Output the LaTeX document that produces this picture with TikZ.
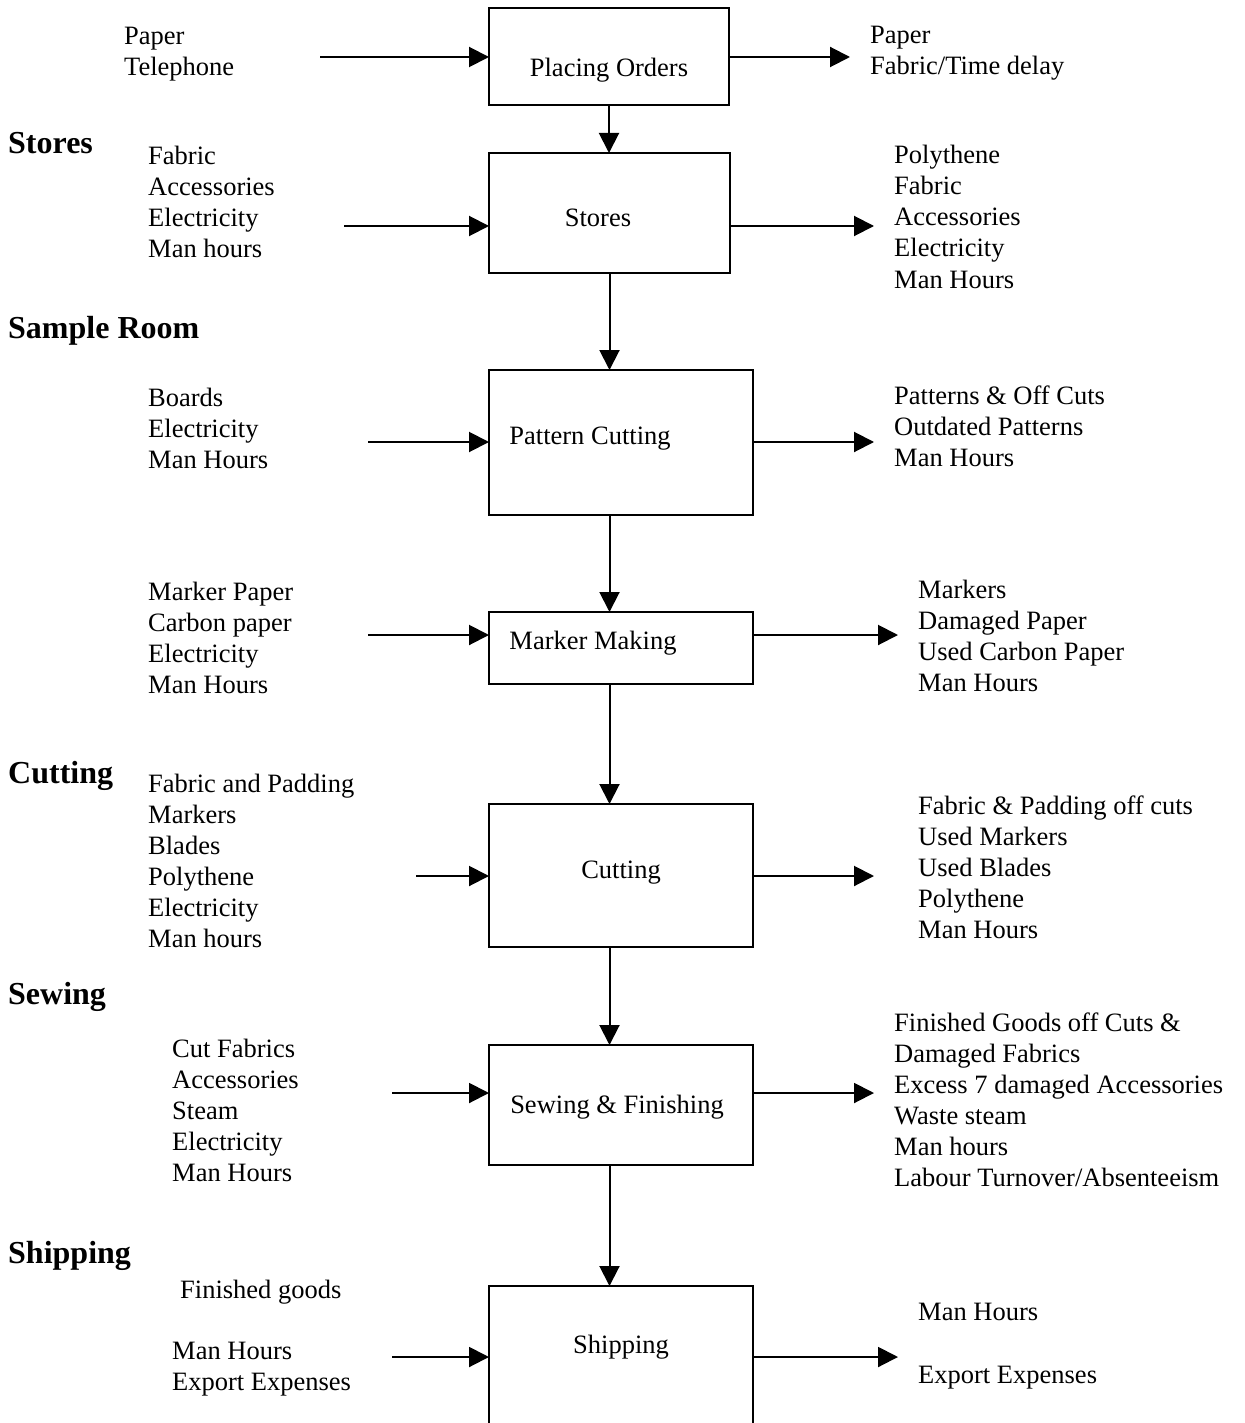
\documentclass[tikz,border=0pt]{standalone}
\usepackage{fontspec}
\setmainfont{Liberation Serif}
\usetikzlibrary{arrows.meta}

% one column of text lines, 31pt apart: name, x, first baseline, items
\newcommand\textcolumn[4]{%
  \foreach \t [count=\i from 0] in {#4}
    \node[txt] (#1-\i) at (#2, {#3+31*\i}) {\t};}

\begin{document}
\begin{tikzpicture}[
    x=1pt, y=-1pt,
    box/.style={draw, line width=2pt, inner sep=0pt, outer sep=0pt},
    arr/.style={line width=2pt, -{Triangle[length=20pt,width=20pt]}},
    txt/.style={anchor=base west, inner sep=0pt, font=\fontsize{26.5}{31}\selectfont},
    boxlabel/.style={anchor=base, inner sep=0pt, font=\fontsize{26.5}{31}\selectfont},
    heading/.style={anchor=base west, inner sep=0pt, font=\fontsize{32}{36}\selectfont\bfseries}
  ]
  \useasboundingbox (0,0) rectangle (1244,1423);
  \clip (0,0) rectangle (1244,1423);

  % process boxes
  \node[box, minimum width=240pt, minimum height=97pt]  (po) at (609,56.5) {};
  \node[box, minimum width=241pt, minimum height=120pt] (st) at (609.5,213) {};
  \node[box, minimum width=264pt, minimum height=145pt] (pc) at (621,442.5) {};
  \node[box, minimum width=264pt, minimum height=72pt]  (mm) at (621,648) {};
  \node[box, minimum width=264pt, minimum height=143pt] (cu) at (621,875.5) {};
  \node[box, minimum width=264pt, minimum height=120pt] (sf) at (621,1105) {};
  \node[box, minimum width=264pt, minimum height=180pt] (sh) at (621,1376) {};

  % box captions
  \node[boxlabel] (po-t) at (609,77)  {Placing Orders};
  \node[boxlabel] (st-t) at (598,227) {Stores};
  \node[boxlabel] (pc-t) at (590,444) {Pattern Cutting};
  \node[boxlabel] (mm-t) at (593,649) {Marker Making};
  \node[boxlabel] (cu-t) at (621,878) {Cutting};
  \node[boxlabel] (sf-t) at (617,1113) {Sewing \& Finishing};
  \node[boxlabel] (sh-t) at (621,1353) {Shipping};

  % main flow
  \draw[arr] (po.south) -- (po.south |- st.north);
  \draw[arr] (st.south) -- (st.south |- pc.north);
  \draw[arr] (st.south |- pc.south) -- (st.south |- mm.north);
  \draw[arr] (st.south |- mm.south) -- (st.south |- cu.north);
  \draw[arr] (st.south |- cu.south) -- (st.south |- sf.north);
  \draw[arr] (st.south |- sf.south) -- (st.south |- sh.north);

  % inputs
  \coordinate (i1) at (320,57);
  \coordinate (i2) at (344,226);
  \coordinate (i3) at (368,442);
  \coordinate (i4) at (368,635);
  \coordinate (i5) at (416,876);
  \coordinate (i6) at (392,1093);
  \coordinate (i7) at (392,1357);
  \draw[arr] (i1) -- (i1 -| po.west);
  \draw[arr] (i2) -- (i2 -| st.west);
  \draw[arr] (i3) -- (i3 -| pc.west);
  \draw[arr] (i4) -- (i4 -| mm.west);
  \draw[arr] (i5) -- (i5 -| cu.west);
  \draw[arr] (i6) -- (i6 -| sf.west);
  \draw[arr] (i7) -- (i7 -| sh.west);

  % outputs
  \coordinate (o1) at (850,57);
  \coordinate (o2) at (874,226);
  \coordinate (o3) at (874,442);
  \coordinate (o4) at (898,635);
  \coordinate (o5) at (874,876);
  \coordinate (o6) at (874,1093);
  \coordinate (o7) at (898,1357);
  \draw[arr] (o1 -| po.east) -- (o1);
  \draw[arr] (o2 -| st.east) -- (o2);
  \draw[arr] (o3 -| pc.east) -- (o3);
  \draw[arr] (o4 -| mm.east) -- (o4);
  \draw[arr] (o5 -| cu.east) -- (o5);
  \draw[arr] (o6 -| sf.east) -- (o6);
  \draw[arr] (o7 -| sh.east) -- (o7);

  % department headings
  \node[heading] (h-st) at (8,154)  {Stores};
  \node[heading] (h-sr) at (8,338)  {Sample Room};
  \node[heading] (h-cu) at (8,783)  {Cutting};
  \node[heading] (h-se) at (8,1004) {Sewing};
  \node[heading] (h-sh) at (8,1263) {Shipping};

  % input lists
  \textcolumn{in1}{124}{45}{Paper,Telephone}
  \textcolumn{in2}{148}{165}{Fabric,Accessories,Electricity,Man hours}
  \textcolumn{in3}{148}{406}{Boards,Electricity,Man Hours}
  \textcolumn{in4}{148}{600}{Marker Paper,Carbon paper,Electricity,Man Hours}
  \textcolumn{in5}{148}{792}{Fabric and Padding,Markers,Blades,Polythene,Electricity,Man hours}
  \textcolumn{in6}{172}{1057}{Cut Fabrics,Accessories,Steam,Electricity,Man Hours}
  \node[txt] (in7-a) at (180,1298) {Finished goods};
  \textcolumn{in7}{172}{1359}{Man Hours,Export Expenses}

  % output lists
  \textcolumn{out1}{870}{44}{Paper,Fabric/Time delay}
  \textcolumn{out2}{894}{164}{Polythene,Fabric,Accessories,Electricity,Man Hours}
  \textcolumn{out3}{894}{404}{Patterns \& Off Cuts,Outdated Patterns,Man Hours}
  \textcolumn{out4}{918}{598}{Markers,Damaged Paper,Used Carbon Paper,Man Hours}
  \textcolumn{out5}{918}{814}{Fabric \& Padding off cuts,Used Markers,Used Blades,Polythene,Man Hours}
  \textcolumn{out6}{894}{1031}{Finished Goods off Cuts \&,Damaged Fabrics,Excess 7 damaged Accessories,Waste steam,Man hours,Labour Turnover/Absenteeism}
  \node[txt] (out7-a) at (918,1320) {Man Hours};
  \node[txt] (out7-b) at (918,1383) {Export Expenses};
\end{tikzpicture}
\end{document}
